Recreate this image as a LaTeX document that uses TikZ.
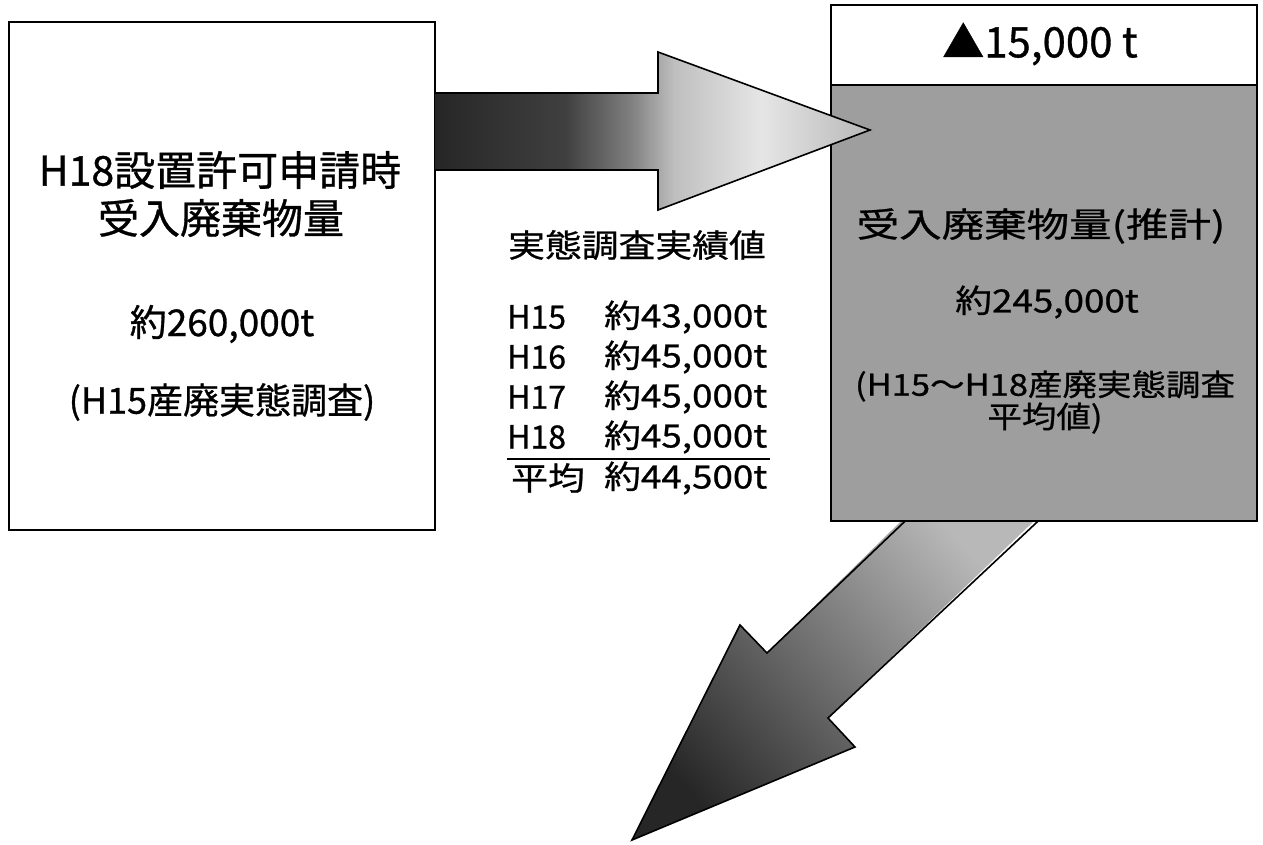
\documentclass[tikz,border=0pt]{standalone}
\usepackage{fontspec}
\setmainfont{Noto Sans CJK JP}[FakeBold=0.8]
\newfontfamily\jp{Noto Sans CJK JP}[FakeBold=0.8]
\newfontfamily\jpS{Noto Sans CJK JP}[FakeStretch=1.15,FakeBold=0.8]
\newfontfamily\jpT{Noto Sans CJK JP}[FakeStretch=1.25,FakeBold=0.8]
\usetikzlibrary{calc}
\newcommand\fsz[1]{\fontsize{#1}{#1}\selectfont}
\pgfdeclarehorizontalshading{harrowshade}{100bp}{color(0bp)=(black!85); color(25bp)=(black!85); color(40bp)=(black!75); color(47.5bp)=(black!50); color(52.5bp)=(black!25); color(62.5bp)=(black!10); color(75bp)=(black!28); color(100bp)=(black!28)}
\begin{document}
\begin{tikzpicture}[x=1pt,y=-1pt,
  boxline/.style={draw=black, line width=1.6pt},
  arrowline/.style={draw=black, line width=1.6pt, line join=miter},
  txt/.style={inner sep=0pt, text=black, align=center},
  frame/.style={shape=rectangle, inner sep=0pt}]
\useasboundingbox[fill=white] (0,0) rectangle (1263,844);

% frames (named, drawn later)
\path node[frame, minimum width=426pt, minimum height=508pt] (L) at (222,276) {};
\path node[frame, minimum width=426pt, minimum height=80pt] (RH) at (1044,45) {};
\path node[frame, minimum width=426pt, minimum height=436pt] (RB) at (1044,303) {};
\coordinate (tipH) at (870,130);
\coordinate (tipD) at (632,840);

% diagonal block arrow (fill)
\shade[top color=black!28, middle color=black!50, bottom color=black!85, shading angle=-48]
  ($(RB.south)+(-139,-4)$) -- (767,653) -- (740,625) -- (tipD) -- (855,747) -- (828,718) -- ($(RB.south)+(-6,-4)$) -- cycle;
\draw[arrowline] ($(RB.south)+(-139,0)$) -- (767,653) -- (740,625) -- (tipD) -- (855,747) -- (828,718) -- ($(RB.south)+(-6,0)$);

% right box
\fill[black!38] (RB.north west) rectangle (RB.south east);
\fill[white] (RH.north west) rectangle (RH.south east);
\draw[boxline] (RH.north west) rectangle (RB.south east);
\draw[boxline] (RH.south west) -- (RH.south east);

% left box
\draw[boxline, fill=white] (L.north west) rectangle (L.south east);

% horizontal block arrow
\shade[shading=harrowshade]
  (L.east |- 0,93) -- (658,93) -- (658,52) -- (tipH) -- (658,210) -- (658,170) -- (L.east |- 0,170) -- cycle;
\draw[arrowline]
  (L.east |- 0,93) -- (658,93) -- (658,52) -- (tipH) -- (658,210) -- (658,170) -- (L.east |- 0,170);

% left box texts
\node[txt, font=\jp\fsz{41}] (l1) at (220,170) {H18設置許可申請時};
\node[txt, font=\jp\fsz{41}] (l2) at (221,218) {受入廃棄物量};
\node[txt, font=\jp\fsz{37}] (l3) at (222,324) {約260,000t};
\node[txt, font=\jp\fsz{36}] (l4) at (222,402) {(H15産廃実態調査)};

% middle texts
\node[txt, font=\jpS\fsz{32}] (m0) at (637,245) {実態調査実績値};
\node[txt, anchor=west, font=\jp\fsz{32}] (y15) at (507,317) {H15};
\node[txt, anchor=west, font=\jpS\fsz{32}] (v15) at (604,317) {約43,000t};
\node[txt, anchor=west, font=\jp\fsz{32}] (y16) at (507,357) {H16};
\node[txt, anchor=west, font=\jpS\fsz{32}] (v16) at (604,357) {約45,000t};
\node[txt, anchor=west, font=\jp\fsz{32}] (y17) at (507,397) {H17};
\node[txt, anchor=west, font=\jpS\fsz{32}] (v17) at (604,397) {約45,000t};
\node[txt, anchor=west, font=\jp\fsz{32}] (y18) at (507,437) {H18};
\node[txt, anchor=west, font=\jpS\fsz{32}] (v18) at (604,437) {約45,000t};
\node[txt, anchor=west, font=\jpS\fsz{32}] (yav) at (511,478) {平均};
\node[txt, anchor=west, font=\jpS\fsz{32}] (vav) at (604,478) {約44,500t};
\coordinate (ulA) at (507,459);
\coordinate (ulB) at (770,459);
\draw[line width=1.4pt] (ulA) -- (ulB);

% right box texts
\node[txt, font=\jp\fsz{42}] (hd) at (1040,44) {▲15,000 t};
\node[txt, font=\jpT\fsz{34}] (r1) at (1041,226) {受入廃棄物量(推計)};
\node[txt, font=\jpS\fsz{32}] (r2) at (1047,302) {約245,000t};
\node[txt, font={\jpS\fontsize{30}{31}\selectfont}] (r3) at (1045,402) {(H15～H18産廃実態調査\\平均値)};
\end{tikzpicture}
\end{document}
